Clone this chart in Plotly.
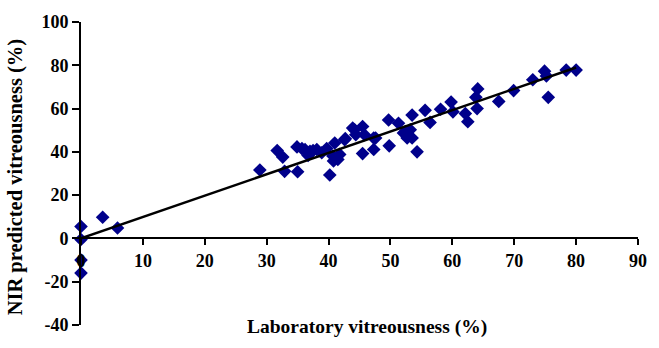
import plotly.graph_objects as go

lab_x = [0, 0, 0, 0, 3.5, 5.9,
         28.9, 31.7, 32.6, 32.9, 34.9, 35.0, 35.7, 36.2, 36.7, 37.0, 37.5, 38.1, 38.9, 39.7,
         40.2, 40.7, 40.8, 41.0, 41.5, 41.8, 42.6, 42.7, 43.9, 44.2, 44.4, 45.5, 45.5, 45.8,
         47.3, 47.3, 47.6, 49.7, 49.8, 51.3, 52.1, 52.4, 52.7, 53.2, 53.5, 53.5, 54.3, 55.6,
         56.4, 58.1, 59.8, 60.1, 62.1, 62.5, 64.0, 63.8, 64.1, 67.5, 69.9, 73.0, 74.9, 75.2,
         75.5, 78.4, 80.0]
nir_y = [5.5, -0.5, -10, -16, 9.8, 4.8,
         31.6, 40.6, 37.6, 31.0, 42.3, 30.8, 41.5, 41.0, 38.3, 40.3, 40.6, 41.1, 39.6, 41.5,
         29.3, 38.1, 35.8, 44.1, 36.5, 38.8, 45.6, 46.1, 51.0, 50.2, 47.9, 51.7, 39.2, 47.9,
         46.4, 41.1, 46.4, 54.7, 42.8, 53.2, 48.7, 49.4, 46.4, 50.2, 57.0, 46.4, 40.0, 59.2,
         53.6, 59.7, 63.0, 58.5, 57.7, 53.9, 60.0, 65.2, 69.1, 63.3, 68.3, 73.3, 77.3, 75.1,
         65.2, 77.8, 77.8]
fit_x = [0, 80]
fit_y = [0, 79]
x_ticks = [0, 10, 20, 30, 40, 50, 60, 70, 80, 90]
y_ticks = [-40, -20, 0, 20, 40, 60, 80, 100]
y_tick_labels = ["-40", "-20", "0", "20", "40", "60", "80", "100"]

FONT = "Liberation Serif"

fig = go.Figure()
fig.add_trace(go.Scatter(x=lab_x, y=nir_y, mode="markers",
                         marker=dict(symbol="diamond", size=10.5, color="#00008B"),
                         cliponaxis=False, showlegend=False))
fig.add_trace(go.Scatter(x=fit_x, y=fit_y, mode="lines",
                         line=dict(color="black", width=2.5),
                         cliponaxis=False, showlegend=False))

fig.update_layout(
    width=659, height=348,
    margin=dict(l=81, r=13, t=15, b=23),
    plot_bgcolor="white", paper_bgcolor="white",
    font=dict(family=FONT, color="black"),
    xaxis=dict(range=[0, 90], tickvals=x_ticks, showgrid=False, zeroline=False,
               showline=True, linecolor="black", linewidth=2,
               ticks="outside", ticklen=6, tickwidth=1.5, tickcolor="black",
               tickfont=dict(family=FONT, size=18, weight="bold"),
               anchor="free", position=40/140),
    yaxis=dict(range=[-40, 100], tickvals=y_ticks, ticktext=y_tick_labels,
               showgrid=False, zeroline=False,
               showline=True, linecolor="black", linewidth=2,
               ticks="outside", ticklen=7, tickwidth=1.5, tickcolor="black",
               tickfont=dict(family=FONT, size=18, weight="bold")),
    annotations=[
        dict(text="Laboratory vitreousness (%)", xref="paper", yref="paper",
             x=0.513, y=-0.005, xanchor="center", yanchor="middle", showarrow=False,
             font=dict(family=FONT, size=19.5, weight="bold")),
        dict(text="NIR predicted vitreousness (%)", xref="paper", yref="paper",
             x=-0.117, y=0.49, xanchor="center", yanchor="middle", showarrow=False,
             textangle=-90, font=dict(family=FONT, size=20.5, weight="bold")),
    ],
)

fig.write_html("out.html")
